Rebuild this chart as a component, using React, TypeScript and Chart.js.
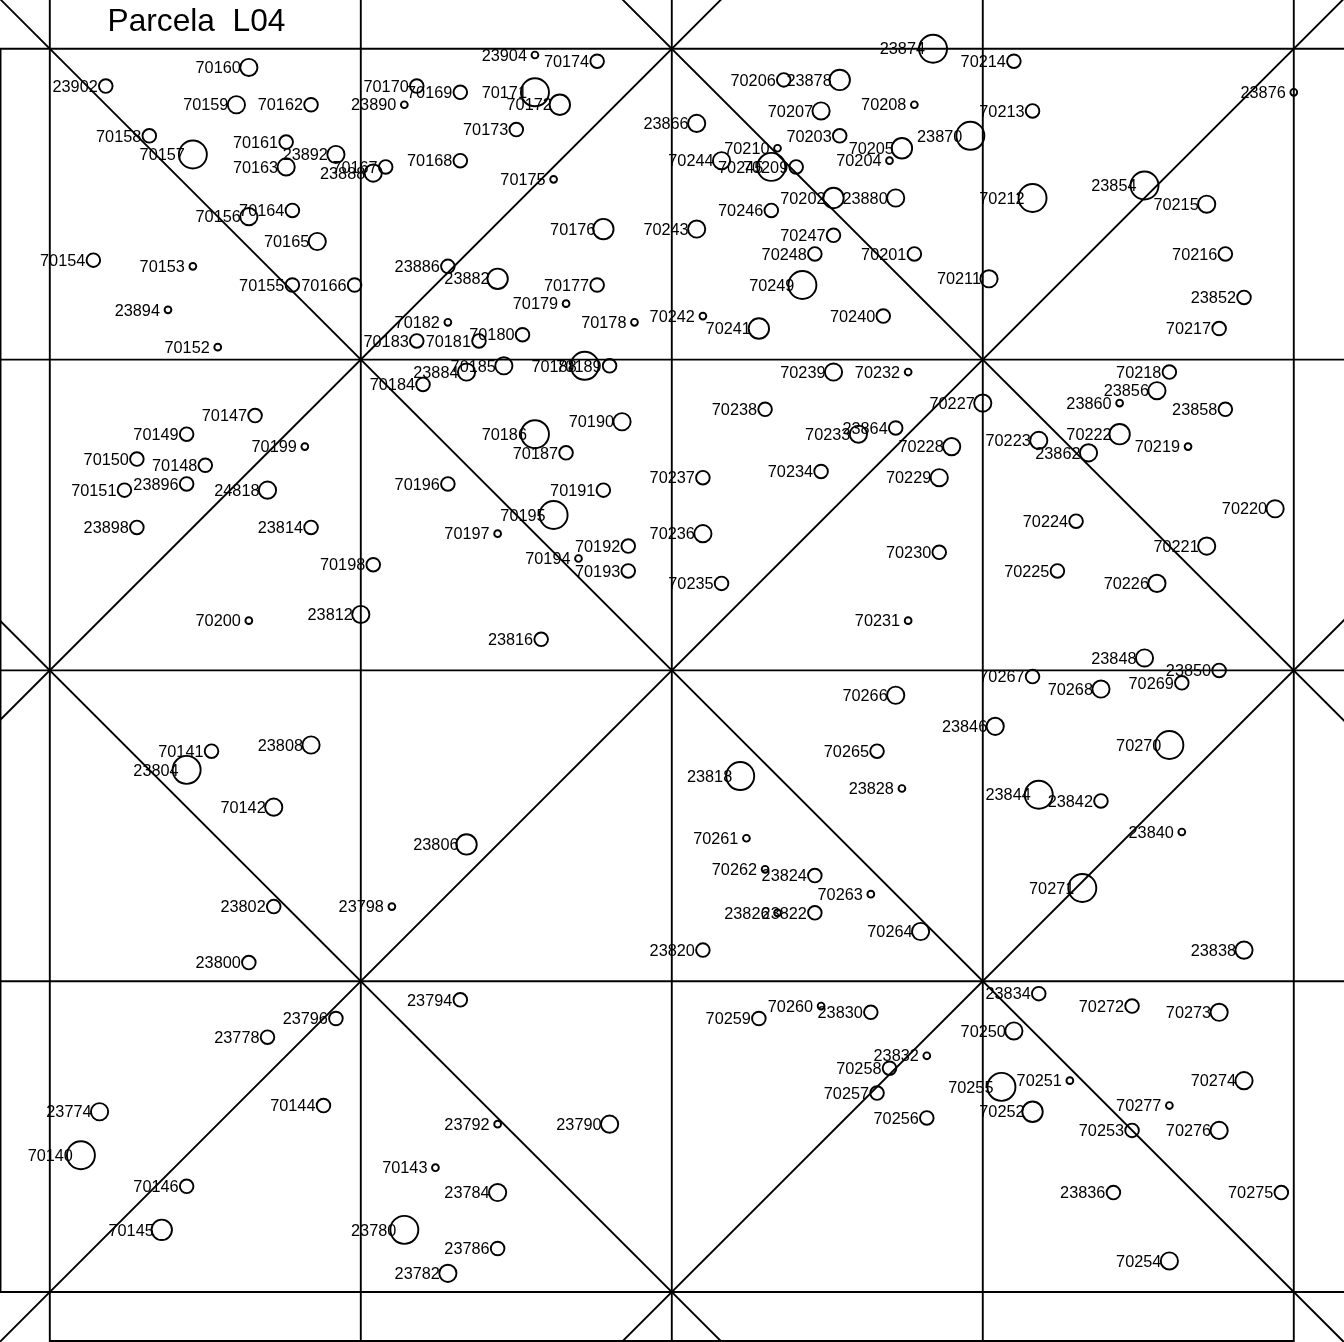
import React, { useEffect, useRef } from "react";
import { Chart, registerables } from "chart.js";

Chart.register(...registerables);

const plotTitle = "Parcela  L04";

const treeIds = [
  23902, 70160, 70159, 70162, 70170, 23890, 70158, 70157, 70161, 23892,
  70163, 70167, 23888, 70168, 70164, 70156, 70165, 70154, 70153, 70155,
  70166, 23886, 23894, 70152, 70182, 70183, 70184, 70147, 70149, 70199,
  23904, 70174, 70169, 70171, 70172, 70173, 70175, 70176, 23882, 70177,
  70179, 70178, 70180, 70181, 70185, 23884, 70188, 70189, 70186, 70187,
  70190, 70206, 23878, 70207, 70208, 23866, 70203, 70210, 70205, 70204,
  70244, 70245, 70209, 70202, 23880, 70246, 70243, 70247, 70248, 70201,
  70249, 70242, 70240, 70241, 70239, 70232, 70238, 70233, 23864, 23874,
  70214, 70213, 23870, 70212, 23854, 70215, 23876, 70216, 23852, 70217,
  70211, 70218, 23856, 23860, 23858, 70227, 70222, 70223, 70228, 70219,
  23862, 70150, 70148, 70151, 23896, 24818, 70196, 23898, 23814, 70198,
  70200, 23812, 70141, 23804, 23808, 70142, 70237, 70234, 70191, 70195,
  70197, 70236, 70192, 70194, 70193, 70235, 23816, 70266, 70265, 23818,
  23828, 70261, 70262, 23824, 23806, 70229, 70230, 70231, 70220, 70224,
  70221, 70225, 70226, 23848, 23850, 70267, 70268, 70269, 23846, 70270,
  23844, 23842, 23840, 70271, 23802, 23798, 23800, 23794, 23796, 23778,
  23774, 70144, 70140, 70143, 70146, 70145, 23780, 23782, 70263, 23826,
  23822, 23820, 70264, 70260, 70259, 23830, 23832, 70258, 70257, 23792,
  23790, 23784, 23786, 23838, 23834, 70272, 70273, 70250, 70251, 70274,
  70255, 70277, 70252, 70256, 70253, 70276, 23836, 70275, 70254,
];

const treeX = [
  3.6, 12.8, 12.0, 16.8, 23.6, 22.8, 6.4, 9.2, 15.2, 18.4,
  15.2, 21.6, 20.8, 26.4, 15.6, 12.8, 17.2, 2.8, 9.2, 15.6,
  19.6, 25.6, 7.6, 10.8, 25.6, 23.6, 24.0, 13.2, 8.8, 16.4,
  31.2, 35.2, 26.4, 31.2, 32.8, 30.0, 32.4, 35.6, 28.8, 35.2,
  33.2, 37.6, 30.4, 27.6, 29.2, 26.8, 34.4, 36.0, 31.2, 33.2,
  36.8, 47.2, 50.8, 49.6, 55.6, 41.6, 50.8, 46.8, 54.8, 54.0,
  43.2, 46.4, 48.0, 50.4, 54.4, 46.4, 41.6, 50.4, 49.2, 55.6,
  48.4, 42.0, 53.6, 45.6, 50.4, 55.2, 46.0, 52.0, 54.4, 56.8,
  62.0, 63.2, 59.2, 63.2, 70.4, 74.4, 80.0, 75.6, 76.8, 75.2,
  60.4, 72.0, 71.2, 68.8, 75.6, 60.0, 68.8, 63.6, 58.0, 73.2,
  66.8, 5.6, 10.0, 4.8, 8.8, 14.0, 25.6, 5.6, 16.8, 20.8,
  12.8, 20.0, 10.4, 8.8, 16.8, 14.4, 42.0, 49.6, 35.6, 32.4,
  28.8, 42.0, 37.2, 34.0, 37.2, 43.2, 31.6, 54.4, 53.2, 44.4,
  54.8, 44.8, 46.0, 49.2, 26.8, 57.2, 57.2, 55.2, 78.8, 66.0,
  74.4, 64.8, 71.2, 70.4, 75.2, 63.2, 67.6, 72.8, 60.8, 72.0,
  63.6, 67.6, 72.8, 66.4, 14.4, 22.0, 12.8, 26.4, 18.4, 14.0,
  3.2, 17.6, 2.0, 24.8, 8.8, 7.2, 22.8, 25.6, 52.8, 46.8,
  49.2, 42.0, 56.0, 49.6, 45.6, 52.8, 56.4, 54.0, 53.2, 28.8,
  36.0, 28.8, 28.8, 76.8, 63.6, 69.6, 75.2, 62.0, 65.6, 76.8,
  61.2, 72.0, 63.2, 56.4, 69.6, 75.2, 68.4, 79.2, 72.0,
];

const treeY = [
  77.6, 78.8, 76.4, 76.4, 77.6, 76.4, 74.4, 73.2, 74.0, 73.2,
  72.4, 72.4, 72.0, 72.8, 69.6, 69.2, 67.6, 66.4, 66.0, 64.8,
  64.8, 66.0, 63.2, 60.8, 62.4, 61.2, 58.4, 56.4, 55.2, 54.4,
  79.6, 79.2, 77.2, 77.2, 76.4, 74.8, 71.6, 68.4, 65.2, 64.8,
  63.6, 62.4, 61.6, 61.2, 59.6, 59.2, 59.6, 59.6, 55.2, 54.0,
  56.0, 78.0, 78.0, 76.0, 76.4, 75.2, 74.4, 73.6, 73.6, 72.8,
  72.8, 72.4, 72.4, 70.4, 70.4, 69.6, 68.4, 68.0, 66.8, 66.8,
  64.8, 62.8, 62.8, 62.0, 59.2, 59.2, 56.8, 55.2, 55.6, 80.0,
  79.2, 76.0, 74.4, 70.4, 71.2, 70.0, 77.2, 66.8, 64.0, 62.0,
  65.2, 59.2, 58.0, 57.2, 56.8, 57.2, 55.2, 54.8, 54.4, 54.4,
  54.0, 53.6, 53.2, 51.6, 52.0, 51.6, 52.0, 49.2, 49.2, 46.8,
  43.2, 43.6, 34.8, 33.6, 35.2, 31.2, 52.4, 52.8, 51.6, 50.0,
  48.8, 48.8, 48.0, 47.2, 46.4, 45.6, 42.0, 38.4, 34.8, 33.2,
  32.4, 29.2, 27.2, 26.8, 28.8, 52.4, 47.6, 43.2, 50.4, 49.6,
  48.0, 46.4, 45.6, 40.8, 40.0, 39.6, 38.8, 39.2, 36.4, 35.2,
  32.0, 31.6, 29.6, 26.0, 24.8, 24.8, 21.2, 18.8, 17.6, 16.4,
  11.6, 12.0, 8.8, 8.0, 6.8, 4.0, 4.0, 1.2, 25.6, 24.4,
  24.4, 22.0, 23.2, 18.4, 17.6, 18.0, 15.2, 14.4, 12.8, 10.8,
  10.8, 6.4, 2.8, 22.0, 19.2, 18.4, 18.0, 16.8, 13.6, 13.6,
  13.2, 12.0, 11.6, 11.2, 10.4, 10.4, 6.4, 6.4, 2.0,
];

// Size class of each tree, 1 (smallest) to 5 (largest)
const treeClass = [
  2, 3, 3, 2, 2, 1, 2, 5, 2, 3,
  3, 2, 3, 2, 2, 3, 3, 2, 1, 2,
  2, 2, 1, 1, 1, 2, 2, 2, 2, 1,
  1, 2, 2, 5, 4, 2, 1, 4, 4, 2,
  1, 1, 2, 2, 3, 3, 5, 2, 5, 2,
  3, 2, 4, 3, 1, 3, 2, 1, 4, 1,
  3, 5, 2, 4, 3, 2, 3, 2, 2, 2,
  5, 1, 2, 4, 3, 1, 2, 3, 2, 5,
  2, 2, 5, 5, 5, 3, 1, 2, 2, 2,
  3, 2, 3, 1, 2, 3, 4, 3, 3, 1,
  3, 2, 2, 2, 2, 3, 2, 2, 2, 2,
  1, 3, 2, 5, 3, 3, 2, 2, 2, 5,
  1, 3, 2, 1, 2, 2, 2, 3, 2, 5,
  1, 1, 1, 2, 4, 3, 2, 1, 3, 2,
  3, 2, 3, 3, 2, 2, 3, 2, 3, 5,
  5, 2, 1, 5, 2, 1, 2, 2, 2, 2,
  3, 2, 5, 1, 2, 4, 5, 3, 1, 1,
  2, 2, 3, 1, 2, 2, 1, 2, 2, 1,
  3, 3, 2, 3, 2, 2, 3, 3, 1, 3,
  5, 1, 4, 2, 2, 3, 2, 2, 3,
];

const classRadius = [0, 3.4, 6.8, 8.6, 10.2, 14];

const gridX = [0, 20, 40, 60, 80];
const gridY = [0, 20, 40, 60, 80];

const xRange = [-3.203, 83.23];
const yRange = [-3.217, 83.14];

// Diagonals as [x1, y1, x2, y2] in metres
const diagonals = [
  [-4, 84, 84, -4],
  [-4, -4, 84, 84],
  [-4, 36, 44, 84],
  [36, 84, 84, 36],
  [-4, 44, 44, -4],
  [36, -4, 84, 44],
];

const frameLeft = -3.17;
const frameBottom = -3.15;

const labelsPlugin = {
  id: "treeLabels",
  afterDatasetsDraw(chart: any) {
    const { ctx, scales } = chart;
    ctx.save();
    ctx.fillStyle = "#000";
    ctx.textAlign = "right";
    ctx.textBaseline = "alphabetic";
    ctx.font = '16.3px "Liberation Sans", Arial, sans-serif';
    treeIds.forEach((id, i) => {
      ctx.fillText(
        String(id),
        scales.x.getPixelForValue(treeX[i]) - 8,
        scales.y.getPixelForValue(treeY[i]) + 5.7,
      );
    });
    ctx.textAlign = "left";
    ctx.font = '31.7px "Liberation Sans", Arial, sans-serif';
    ctx.fillText(plotTitle, 107.5, 31);
    ctx.restore();
  },
};

export default function App() {
  const ref = useRef<HTMLCanvasElement>(null);

  useEffect(() => {
    document.body.style.margin = "0";
    const lineStyle = {
      type: "scatter" as const,
      showLine: true,
      pointRadius: 0,
      borderColor: "#000",
      borderWidth: 1.9,
      fill: false,
      tension: 0,
      clip: false,
    };
    const lineSets: any[] = [
      ...gridX.map((v) => ({
        ...lineStyle,
        data: [
          { x: v, y: yRange[0] },
          { x: v, y: yRange[1] },
        ],
      })),
      ...gridY.map((v) => ({
        ...lineStyle,
        data: [
          { x: xRange[0], y: v },
          { x: xRange[1], y: v },
        ],
      })),
      ...diagonals.map((d) => ({
        ...lineStyle,
        data: [
          { x: d[0], y: d[1] },
          { x: d[2], y: d[3] },
        ],
      })),
      {
        ...lineStyle,
        data: [
          { x: frameLeft, y: 0 },
          { x: frameLeft, y: 80 },
        ],
      },
      {
        ...lineStyle,
        data: [
          { x: 0, y: frameBottom },
          { x: 80, y: frameBottom },
        ],
      },
    ];
    const chart = new Chart(ref.current as HTMLCanvasElement, {
      type: "scatter",
      data: {
        datasets: [
          ...lineSets,
          {
            data: treeIds.map((_, i) => ({ x: treeX[i], y: treeY[i] })),
            pointStyle: "circle",
            pointRadius: treeClass.map((c) => classRadius[c]),
            pointBackgroundColor: "rgba(0,0,0,0)",
            pointBorderColor: "#000",
            pointBorderWidth: 1.9,
            showLine: false,
            clip: false,
          },
        ],
      },
      options: {
        animation: false,
        responsive: false,
        devicePixelRatio: 1,
        layout: { padding: 0, autoPadding: false },
        plugins: {
          legend: { display: false },
          tooltip: { enabled: false },
          title: { display: false },
        },
        scales: {
          x: { type: "linear", display: false, min: xRange[0], max: xRange[1] },
          y: { type: "linear", display: false, min: yRange[0], max: yRange[1] },
        },
      },
      plugins: [labelsPlugin],
    } as any);
    return () => chart.destroy();
  }, []);

  return (
    <canvas
      ref={ref}
      width={1344}
      height={1342}
      style={{ display: "block", width: 1344, height: 1342 }}
    />
  );
}
